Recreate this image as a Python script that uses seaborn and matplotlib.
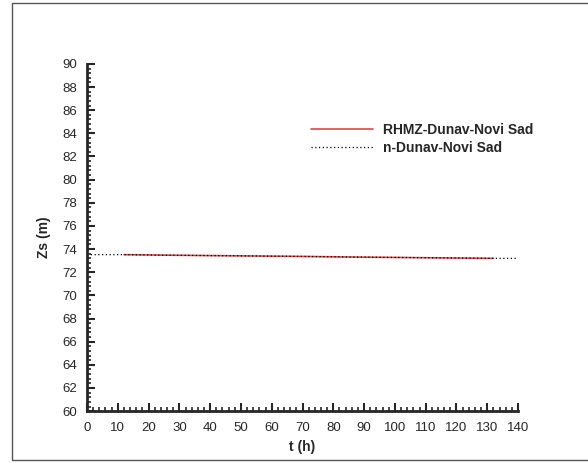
import matplotlib
matplotlib.use('Agg')
import matplotlib.pyplot as plt
from matplotlib.patches import Rectangle
from matplotlib.ticker import MultipleLocator
import seaborn as sns
import pandas as pd

# Observed (RHMZ) and computed water levels at Novi Sad
t_obs = [12, 24, 36, 48, 60, 72, 84, 96, 108, 120, 132]
zs_obs = [73.52, 73.48, 73.45, 73.42, 73.39, 73.36, 73.32, 73.29, 73.26, 73.23, 73.20]
t_calc = [0, 12, 24, 36, 48, 60, 72, 84, 96, 108, 120, 132, 140]
zs_calc = [73.52, 73.52, 73.48, 73.45, 73.42, 73.39, 73.36, 73.32, 73.29, 73.26, 73.23, 73.20, 73.20]

label_obs = 'RHMZ-Dunav-Novi Sad'
label_calc = 'n-Dunav-Novi Sad'

sns.set_style('ticks')
plt.rcParams['font.family'] = ['Liberation Sans', 'DejaVu Sans']

fig = plt.figure(figsize=(5.88, 4.63), dpi=100)
ax = fig.add_axes([0.148, 0.112, 0.733, 0.750])

# outer frame
fig.patches.append(Rectangle((12 / 588, 3 / 463), 1.0, 457 / 463, transform=fig.transFigure,
                             fill=False, edgecolor='#555555', linewidth=1.0))

df_obs = pd.DataFrame({'t': t_obs, 'zs': zs_obs})
df_calc = pd.DataFrame({'t': t_calc, 'zs': zs_calc})
sns.lineplot(data=df_obs, x='t', y='zs', ax=ax, color='#e04545', linewidth=1.2, label=label_obs)
sns.lineplot(data=df_calc, x='t', y='zs', ax=ax, color='black', linewidth=0.9,
             linestyle=(0, (1, 2)), label=label_calc)

ax.set_xlim(0, 140)
ax.set_ylim(60, 90)
ax.xaxis.set_major_locator(MultipleLocator(10))
ax.xaxis.set_minor_locator(MultipleLocator(2))
ax.yaxis.set_major_locator(MultipleLocator(2))
ax.yaxis.set_minor_locator(MultipleLocator(0.4))
ax.tick_params(which='major', direction='in', length=6, width=1.5, labelsize=9.5)
ax.tick_params(axis='x', which='major', pad=8)
ax.tick_params(axis='y', which='major', pad=7)
ax.tick_params(which='minor', direction='in', length=3, width=1.2)

sns.despine(ax=ax)
for s in ['left', 'bottom']:
    ax.spines[s].set_linewidth(2)

ax.set_xlabel('t (h)', fontsize=10, fontweight='bold', labelpad=4)
ax.set_ylabel('Zs (m)', fontsize=10, fontweight='bold', labelpad=8)

leg = ax.legend(loc='upper left', bbox_to_anchor=(311 / 588, 1 - 123 / 463),
                bbox_transform=fig.transFigure, frameon=False, borderpad=0, borderaxespad=0,
                prop={'size': 10, 'weight': 'bold'}, handlelength=4.45, handletextpad=0.75,
                labelspacing=0.3)

fig.savefig('out.png', dpi=100)
